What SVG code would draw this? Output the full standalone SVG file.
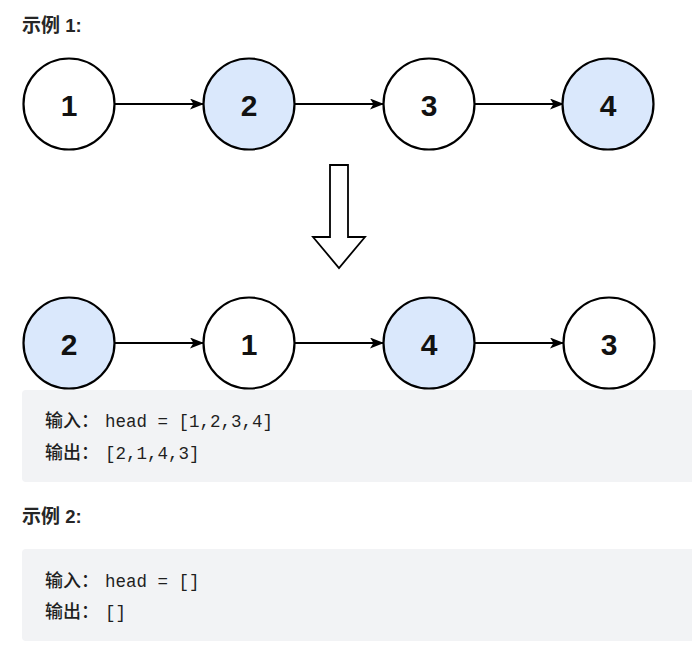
<svg xmlns="http://www.w3.org/2000/svg" width="692" height="653" viewBox="0 0 692 653">
<style>
.node circle{stroke:#000;stroke-width:2.2}
.w{fill:#ffffff}
.b{fill:#dae8fc}
.num{font-family:"Liberation Sans",Arial,sans-serif;font-weight:bold;font-size:30px;fill:#111;text-anchor:middle}
.title{font-family:"Liberation Sans","Noto Sans CJK SC",sans-serif;font-weight:bold;font-size:18.5px;fill:#262626}
.tcn{font-family:"Noto Sans CJK SC",sans-serif;font-size:19px}
.cn{font-family:"Noto Sans CJK SC",sans-serif;font-size:18px;font-weight:500;fill:#1f1f1f}
.mono{font-family:"Liberation Mono","DejaVu Sans Mono",monospace;font-size:17.5px;fill:#1f1f1f}
.edge{stroke:#000;stroke-width:2;fill:none;marker-end:url(#ah)}
.box{fill:#f2f3f5}
</style>
<defs>
<marker id="ah" viewBox="0 0 14 11" refX="13" refY="5.5" markerWidth="14" markerHeight="11" markerUnits="userSpaceOnUse" orient="auto">
<path d="M0,0 L14,5.5 L0,11 L3.5,5.5 Z" fill="#000"/>
</marker>
</defs>
<rect width="692" height="653" fill="#fff"/>
<text class="title" x="22" y="32"><tspan class="tcn">示例</tspan> 1:</text>
<g id="connectors">
<line class="edge" x1="115" y1="104" x2="203" y2="104"/>
<line class="edge" x1="295" y1="104" x2="383" y2="104"/>
<line class="edge" x1="475" y1="104" x2="563" y2="104"/>
<line class="edge" x1="115" y1="343" x2="203" y2="343"/>
<line class="edge" x1="295" y1="343" x2="383" y2="343"/>
<line class="edge" x1="475" y1="343" x2="563" y2="343"/>
</g>
<g id="top1" class="node"><circle class="w" cx="69" cy="104" r="45.5"/><text class="num" x="69" y="116">1</text></g>
<g id="top2" class="node"><circle class="b" cx="249" cy="104" r="45.5"/><text class="num" x="249" y="116">2</text></g>
<g id="top3" class="node"><circle class="w" cx="429" cy="104" r="45.5"/><text class="num" x="429" y="116">3</text></g>
<g id="top4" class="node"><circle class="b" cx="608" cy="104" r="45.5"/><text class="num" x="608" y="116">4</text></g>
<g id="downArrow">
<path d="M330,165 L348,165 L348,237 L365,237 L339,268 L313,237 L330,237 Z" fill="#fff" stroke="#000" stroke-width="1.8" stroke-linejoin="miter"/>
</g>
<g id="bot2" class="node"><circle class="b" cx="69" cy="343" r="45.5"/><text class="num" x="69" y="355">2</text></g>
<g id="bot1" class="node"><circle class="w" cx="249" cy="343" r="45.5"/><text class="num" x="249" y="355">1</text></g>
<g id="bot4" class="node"><circle class="b" cx="429" cy="343" r="45.5"/><text class="num" x="429" y="355">4</text></g>
<g id="bot3" class="node"><circle class="w" cx="609" cy="343" r="45.5"/><text class="num" x="609" y="355">3</text></g>
<rect class="box" x="22" y="390" width="680" height="92" rx="4"/>
<text class="cn" x="45" y="427">输入：</text><text class="mono" x="105" y="427">head = [1,2,3,4]</text>
<text class="cn" x="45" y="459">输出：</text><text class="mono" x="105" y="459">[2,1,4,3]</text>
<text class="title" x="22" y="523"><tspan class="tcn">示例</tspan> 2:</text>
<rect class="box" x="22" y="549" width="680" height="92" rx="4"/>
<text class="cn" x="45" y="587">输入：</text><text class="mono" x="105" y="587">head = []</text>
<text class="cn" x="45" y="618">输出：</text><text class="mono" x="105" y="618">[]</text>
</svg>
